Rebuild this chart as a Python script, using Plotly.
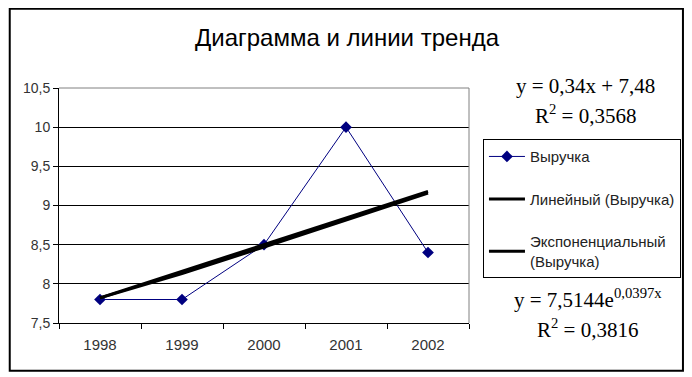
import plotly.graph_objects as go

# ---- data ----
years = ["1998", "1999", "2000", "2001", "2002"]
revenue = [7.8, 7.8, 8.5, 10.0, 8.4]
linear_trend = [7.82, 8.16, 8.50, 8.84, 9.18]
exp_trend = [7.82, 8.13, 8.47, 8.82, 9.16]
y_ticks = [7.5, 8, 8.5, 9, 9.5, 10, 10.5]
title_text = "Диаграмма и линии тренда"
series_names = ["Выручка", "Линейный (Выручка)", "Экспоненциальный<br>(Выручка)"]
lin_eq = ["y = 0,34x + 7,48", "R<sup>2</sup> = 0,3568"]
exp_eq = ["y = 7,5144e<sup>0,0397x</sup>", "R<sup>2</sup> = 0,3816"]

# page body has an 8px margin: work in reference-pixel coords and shift
OFF = 8
W, H = 692 - OFF, 377 - OFF
L, R, T, B = 58.5, 470.5, 88.3, 323.3  # plot area in reference pixels

def px(xp):
    return (xp - L) / (R - L)

def py(yp):
    return (B - yp) / (B - T)

fig = go.Figure()
fig.add_trace(go.Scatter(
    x=years, y=revenue, name=series_names[0], mode="lines+markers",
    line=dict(color="#000080", width=1),
    marker=dict(symbol="diamond", size=9, color="#000080"),
    legendgroup="a"))
fig.add_trace(go.Scatter(
    x=years, y=linear_trend, name=series_names[1], mode="lines",
    line=dict(color="black", width=3), legendgroup="b"))
fig.add_trace(go.Scatter(
    x=years, y=exp_trend, name=series_names[2], mode="lines",
    line=dict(color="black", width=3), legendgroup="c"))

fig.update_layout(
    width=W, height=H,
    margin=dict(l=L - OFF, r=692 - R, t=T - OFF, b=377 - B, pad=0),
    paper_bgcolor="white", plot_bgcolor="white",
    separators=", ",
    font=dict(family="Liberation Sans, Arial, sans-serif", size=15, color="#222"),
    title=dict(text=title_text, x=(347 - OFF) / W, xanchor="center",
               y=1 - (38 - OFF) / H, yanchor="middle",
               font=dict(size=24, color="black")),
    showlegend=True,
    legend=dict(x=px(483.5), y=py(139.5), xanchor="left", yanchor="top",
                bordercolor="black", borderwidth=1, bgcolor="white",
                font=dict(size=15, color="#222"), tracegroupgap=20,
                traceorder="grouped", itemwidth=36),
)

fig.update_xaxes(
    type="category", showgrid=False, showline=True, linecolor="black", linewidth=1,
    ticks="outside", ticklen=5, tickcolor="black", tickson="boundaries",
    tickfont=dict(size=15, color="#333"), ticklabelstandoff=8,
    range=[-0.5, 4.5], fixedrange=True)
fig.update_yaxes(
    range=[7.5, 10.5], tickvals=y_ticks, tickformat=".1~f",
    showgrid=True, gridcolor="black", gridwidth=1,
    showline=True, linecolor="black", linewidth=1,
    ticks="outside", ticklen=5, tickcolor="black",
    tickfont=dict(size=14, color="#333"), zeroline=False, fixedrange=True)

# plot area gray top/right border
fig.add_shape(type="line", xref="paper", yref="paper", x0=0, x1=1, y0=1, y1=1,
              line=dict(color="#808080", width=1), layer="above")
fig.add_shape(type="line", xref="paper", yref="paper", x0=1, x1=1, y0=0, y1=1,
              line=dict(color="#808080", width=1), layer="above")
# outer chart border
fig.add_shape(type="rect", xref="paper", yref="paper",
              x0=px(9), x1=px(685.5), y0=py(9), y1=py(371),
              line=dict(color="black", width=2), layer="above")

eq_font = dict(family="Liberation Serif, Times New Roman, serif", size=21, color="black")
for i, t in enumerate(lin_eq):
    fig.add_annotation(text=t, xref="paper", yref="paper", x=px(588), y=py(86 + 29 * i),
                       xanchor="center", yanchor="middle", showarrow=False, font=eq_font)
for i, t in enumerate(exp_eq):
    fig.add_annotation(text=t, xref="paper", yref="paper", x=px(590), y=py(299 + 30 * i),
                       xanchor="center", yanchor="middle", showarrow=False, font=eq_font)

fig.write_html("out.html")
